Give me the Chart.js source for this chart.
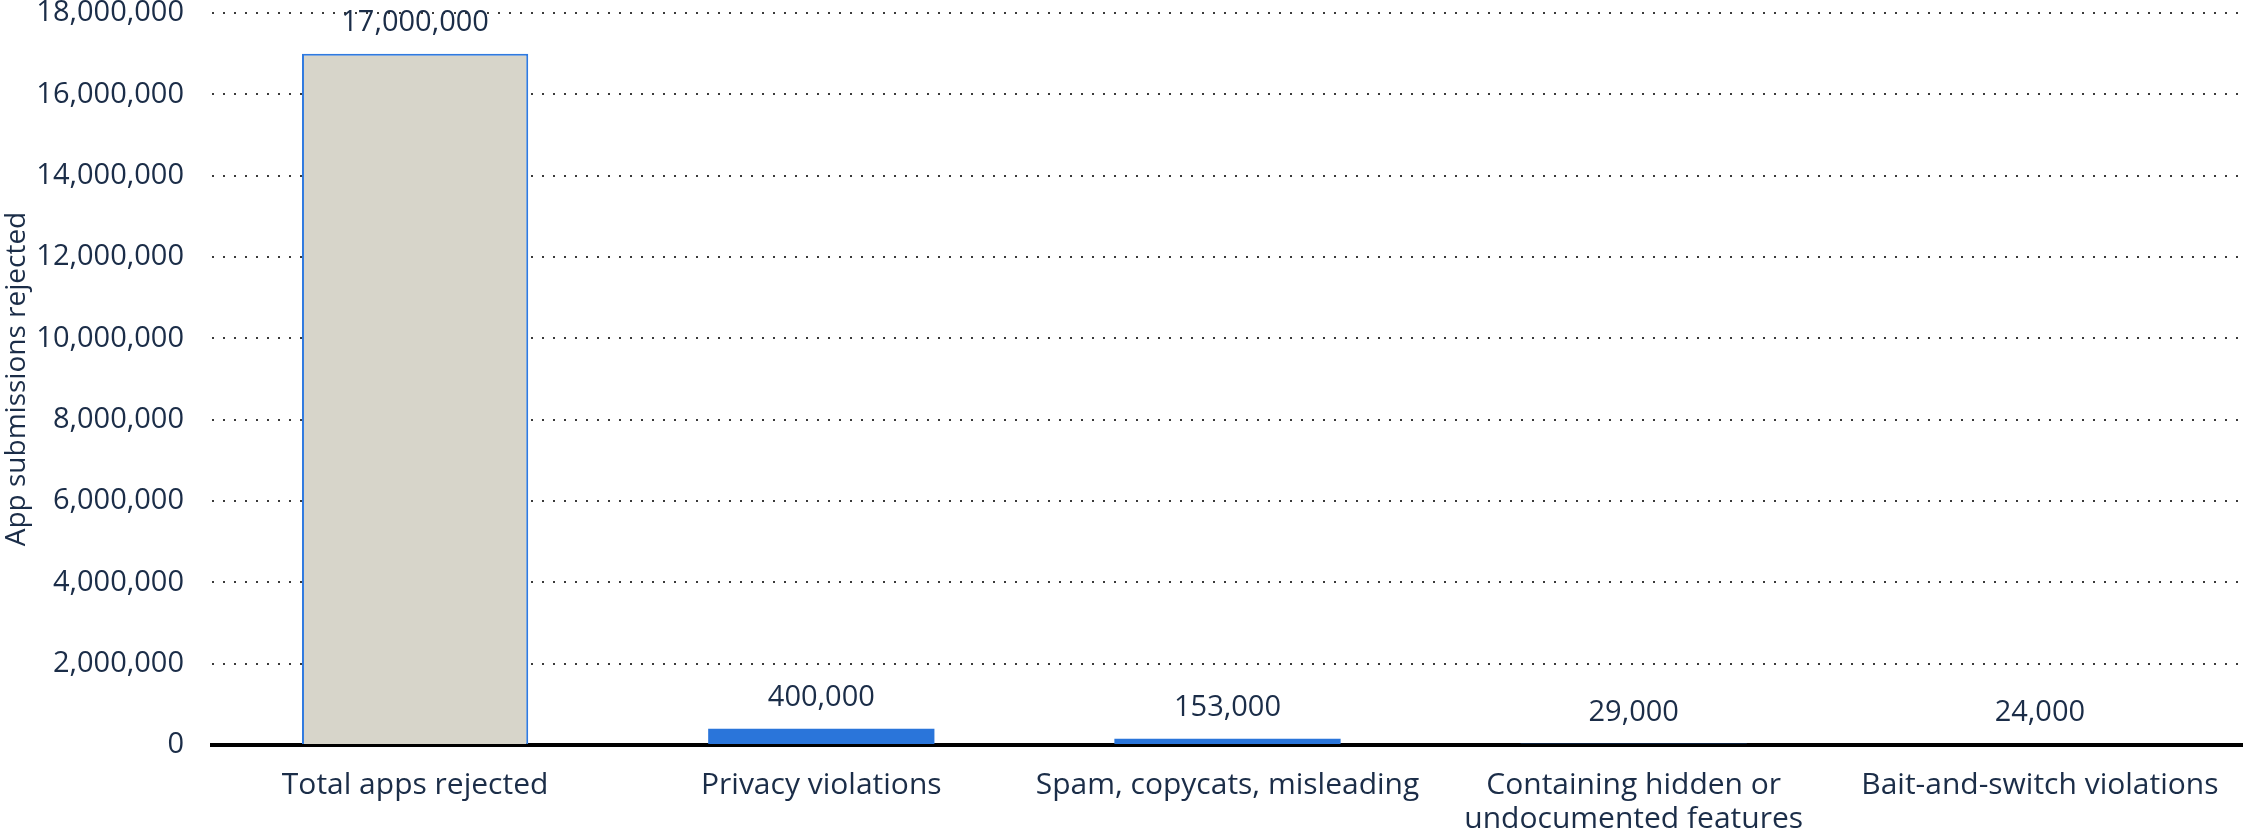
<!DOCTYPE html>
<html>
    <head>
        <title>App submissions rejected</title>
        <meta charset="UTF-8">
        <script src="https://cdnjs.cloudflare.com/ajax/libs/Chart.js/4.4.1/chart.umd.min.js"></script>
        <style>
            body { margin: 0; background: #ffffff; }
            #chart-box { width: 2243px; height: 833px; }
        </style>
    </head>
    <body>
        <div id="chart-box">
            <canvas id="rejectChart" width="2243" height="833"></canvas>
        </div>

        <script>
            // data
            var categories = [
                'Total apps rejected',
                'Privacy violations',
                'Spam, copycats, misleading',
                ['Containing hidden or', 'undocumented features'],
                'Bait-and-switch violations'
            ];
            var rejected = [17000000, 400000, 153000, 29000, 24000];
            var yTicks = [0, 2000000, 4000000, 6000000, 8000000, 10000000, 12000000, 14000000, 16000000, 18000000];

            var textColor = '#1b2d48';
            var fontName = "'Open Sans', 'Noto Sans', sans-serif";

            // numbers above the bars
            var valueLabels = {
                id: 'valueLabels',
                afterDatasetsDraw: function (chart) {
                    var ctx = chart.ctx;
                    var meta = chart.getDatasetMeta(0);
                    ctx.save();
                    ctx.font = '29px ' + fontName;
                    ctx.fillStyle = textColor;
                    ctx.textAlign = 'center';
                    ctx.textBaseline = 'middle';
                    meta.data.forEach(function (bar, i) {
                        ctx.fillText(rejected[i].toLocaleString('en-US'), bar.x, bar.y - 31);
                    });
                    ctx.restore();
                }
            };

            var chart = new Chart(document.getElementById('rejectChart'), {
                type: 'bar',
                data: {
                    labels: categories,
                    datasets: [{
                            data: rejected,
                            backgroundColor: ['#d7d5ca', '#2a75da', '#2a75da', '#2a75da', '#2a75da'],
                            borderColor: ['#2f7ae0', '#2a75da', '#2a75da', '#2a75da', '#2a75da'],
                            borderWidth: [2, 0, 0, 0, 0],
                            borderSkipped: 'bottom',
                            barPercentage: 0.557,
                            categoryPercentage: 1
                        }]
                },
                plugins: [valueLabels],
                options: {
                    responsive: false,
                    animation: false,
                    layout: { padding: 0 },
                    plugins: {
                        legend: { display: false },
                        tooltip: { enabled: false }
                    },
                    scales: {
                        x: {
                            grid: { display: false, drawTicks: false },
                            border: { display: true, color: '#000000', width: 4 },
                            ticks: {
                                color: textColor,
                                font: { family: fontName, size: 30, lineHeight: 1.14 },
                                padding: 23,
                                maxRotation: 0,
                                autoSkip: false
                            },
                            afterFit: function (s) {
                                s.height = 88;
                                s.paddingLeft = 0;
                                s.paddingRight = 0;
                            }
                        },
                        y: {
                            min: 0,
                            max: 18000000,
                            afterBuildTicks: function (s) {
                                s.ticks = yTicks.map(function (v) { return { value: v }; });
                            },
                            grid: {
                                color: '#3a3a3a',
                                lineWidth: 2,
                                drawTicks: false
                            },
                            border: { display: false, dash: [2, 9] },
                            ticks: {
                                color: textColor,
                                font: { family: fontName, size: 29, lineHeight: 1 },
                                padding: 28,
                                callback: function (v) { return Number(v).toLocaleString('en-US'); }
                            },
                            title: {
                                display: true,
                                text: 'App submissions rejected',
                                color: textColor,
                                font: { family: fontName, size: 28 },
                                padding: { top: 0, bottom: 0 }
                            },
                            afterFit: function (s) {
                                s.width = 212;
                                s.paddingTop = 13;
                                s.paddingBottom = 0;
                            }
                        }
                    }
                }
            });
        </script>
    </body>
</html>
